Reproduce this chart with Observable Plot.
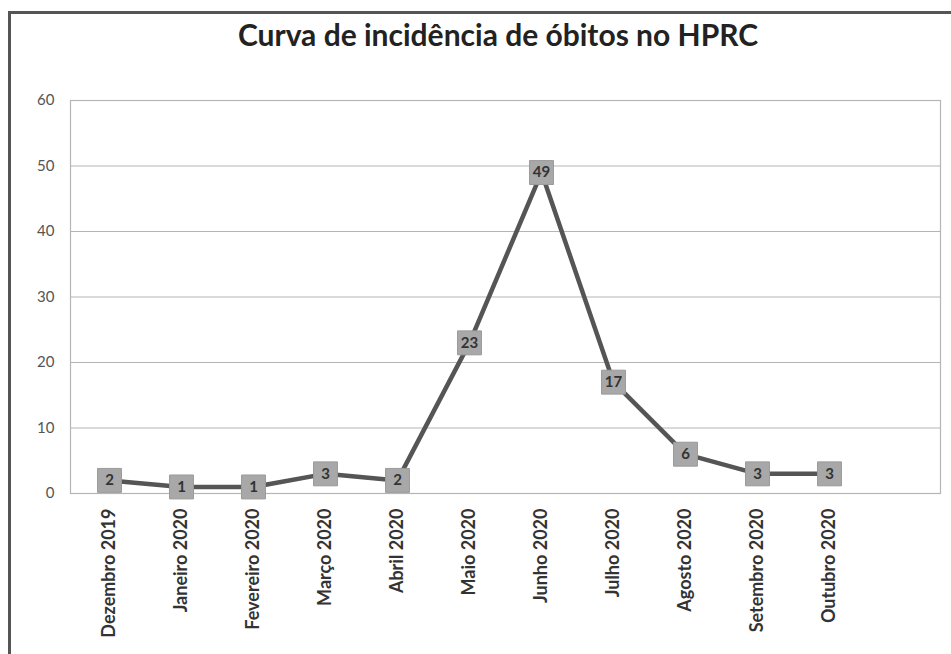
<!DOCTYPE html>
<html>
<head>
<meta charset="utf-8">
<script src="https://cdn.jsdelivr.net/npm/d3@7"></script>
<script src="https://cdn.jsdelivr.net/npm/@observablehq/plot@0.6"></script>
<style>
  html, body { margin: 0; padding: 0; background: #fff; }
  #wrap { position: relative; width: 951px; height: 654px; overflow: hidden; background: #fff; }
  #title { position: absolute; left: 0; width: 996px; top: 16px; text-align: center;
           font-family: Lato, "Open Sans", sans-serif; font-weight: bold; font-size: 30px; color: #222; }
  #chart { position: absolute; left: 0; top: 70px; }
  #bTop { position: absolute; left: 8px; top: 11px; width: 943px; height: 3px; background: #555; }
  #bLeft { position: absolute; left: 8px; top: 11px; width: 3px; height: 643px; background: #555; }
</style>
</head>
<body>
<div id="wrap">
  <div id="bTop"></div>
  <div id="bLeft"></div>
  <div id="title">Curva de incidência de óbitos no HPRC</div>
  <div id="chart"></div>
</div>
<script>
const months = ["Dezembro 2019", "Janeiro 2020", "Fevereiro 2020", "Março 2020", "Abril 2020",
  "Maio 2020", "Junho 2020", "Julho 2020", "Agosto 2020", "Setembro 2020", "Outubro 2020"];
const deaths = [2, 1, 1, 3, 2, 23, 49, 17, 6, 3, 3];
const yTicks = [0, 10, 20, 30, 40, 50, 60];

const data = months.map((m, i) => ({month: m, value: deaths[i]}));

const W = 951, H = 584, mL = 70, mR = 11, mT = 30, mB = 161;
const step = (W - mL - mR) / 12;

const chart = Plot.plot({
  width: W,
  height: H,
  marginLeft: mL,
  marginRight: mR,
  marginTop: mT,
  marginBottom: mB,
  style: {fontFamily: "Lato, 'Open Sans', sans-serif", background: "transparent"},
  x: {type: "point", domain: months, padding: 0, range: [mL + step / 2, W - mR - step * 1.5]},
  y: {domain: [0, 60]},
  marks: [
    Plot.gridY(yTicks, {stroke: "#b5b5b5", strokeOpacity: 1, strokeWidth: 1.2}),
    Plot.frame({stroke: "#b5b5b5", strokeWidth: 1.2}),
    Plot.axisY(yTicks, {tickSize: 0, tickPadding: 16, fontSize: 15, fill: "#555", label: null}),
    Plot.axisX({tickRotate: -90, tickSize: 0, tickPadding: 15, fontSize: 18, fontWeight: "bold", fill: "#333", label: null}),
    Plot.line(data, {x: "month", y: "value", stroke: "#555", strokeWidth: 4.5}),
    Plot.dot(data, {x: "month", y: "value", symbol: "square", r: 13.5, fill: "#a8a8a8", stroke: "#9a9a9a", strokeWidth: 1}),
    Plot.text(data, {x: "month", y: "value", text: d => String(d.value), fontSize: 15, fontWeight: "bold", fill: "#333"})
  ]
});
document.getElementById("chart").appendChild(chart);
</script>
</body>
</html>
